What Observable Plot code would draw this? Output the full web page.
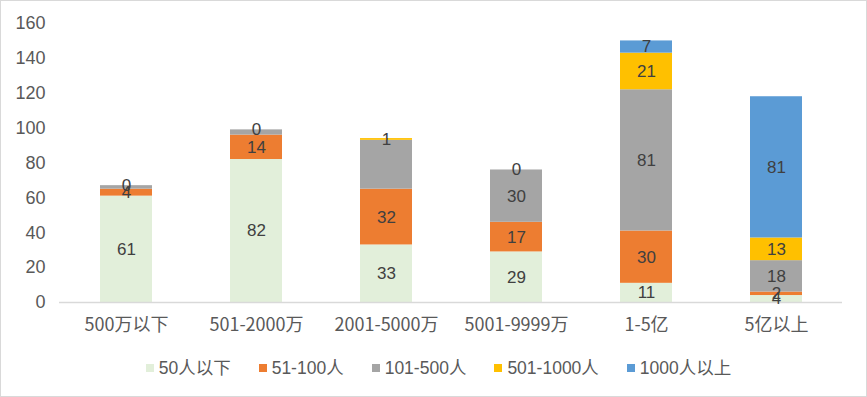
<!DOCTYPE html>
<html><head><meta charset="utf-8">
<script src="https://cdn.jsdelivr.net/npm/d3@7"></script>
<script src="https://cdn.jsdelivr.net/npm/@observablehq/plot@0.6"></script>
<style>
html,body{margin:0;padding:0;background:#fff;}
#wrap{width:865px;height:395px;border:1px solid #d9d9d9;position:relative;overflow:hidden;font-family:"Liberation Sans","Noto Sans CJK SC",sans-serif;}
#legend{position:absolute;left:5px;width:865px;top:355px;display:flex;justify-content:center;font-size:17.5px;color:#595959;line-height:24px;}
#legend .it{display:flex;align-items:center;margin:0 14px;}
#legend .sw{width:8px;height:8px;margin-right:5px;}
</style></head>
<body><div id="wrap"><div id="chart"></div><div id="legend"></div></div>
<script>
const categories = ["500万以下","501-2000万","2001-5000万","5001-9999万","1-5亿","5亿以上"];
const seriesNames = ["50人以下","51-100人","101-500人","501-1000人","1000人以上"];
const colors = ["#e2efda","#ed7d31","#a5a5a5","#ffc000","#5b9bd5"];
const s1 = [61,82,33,29,11,4];
const s2 = [4,14,32,17,30,2];
const s3 = [2,3,28,30,81,18];
const s4 = [0,0,1,0,21,13];
const s5 = [0,0,0,0,7,81];
// which value labels are visible in the reference
const show1 = [1,1,1,1,1,1];
const show2 = [1,1,1,1,1,1];
const show3 = [0,0,0,1,1,1];
const show4 = [1,1,1,1,1,1];
const show5 = [0,0,0,0,1,1];
const yTicks = [0,20,40,60,80,100,120,140,160];

const vals = [s1,s2,s3,s4,s5];
const shows = [show1,show2,show3,show4,show5];
const data = [];
seriesNames.forEach((s,si)=>categories.forEach((c,ci)=>{
  data.push({cat:c, series:s, value:vals[si][ci], label: shows[si][ci] ? String(vals[si][ci]) : ""});
}));

const chart = Plot.plot({
  width:865, height:340,
  marginTop:22, marginBottom:39, marginLeft:58, marginRight:24,
  style:{fontFamily:'"Liberation Sans","Noto Sans CJK SC",sans-serif', fontSize:"17px", color:"#595959", background:"transparent"},
  x:{domain:categories, paddingInner:0.6, paddingOuter:0.3, label:null},
  y:{domain:[0,160], label:null},
  color:{domain:seriesNames, range:colors},
  marks:[
    Plot.axisY({ticks:yTicks, tickSize:0, tickPadding:14, fontSize:18, fill:"#595959", label:null}),
    Plot.axisX({tickSize:0, tickPadding:16, fontSize:18, fill:"#595959", fontFamily:'"Liberation Sans Narrow","Noto Sans CJK SC",sans-serif', label:null}),
    Plot.barY(data, {x:"cat", y:"value", fill:"series", order:seriesNames}),
    Plot.ruleY([0], {stroke:"#d9d9d9", strokeWidth:1.5}),
    Plot.text(data, Plot.stackY({x:"cat", y:"value", z:"series", order:seriesNames, text:"label", fill:"#404040", fontSize:17}))
  ]
});
document.getElementById("chart").appendChild(chart);

const lg = document.getElementById("legend");
seriesNames.forEach((s,i)=>{
  const it=document.createElement("div"); it.className="it";
  const sw=document.createElement("div"); sw.className="sw"; sw.style.background=colors[i];
  const t=document.createElement("span"); t.textContent=s;
  it.appendChild(sw); it.appendChild(t); lg.appendChild(it);
});
</script></body></html>
